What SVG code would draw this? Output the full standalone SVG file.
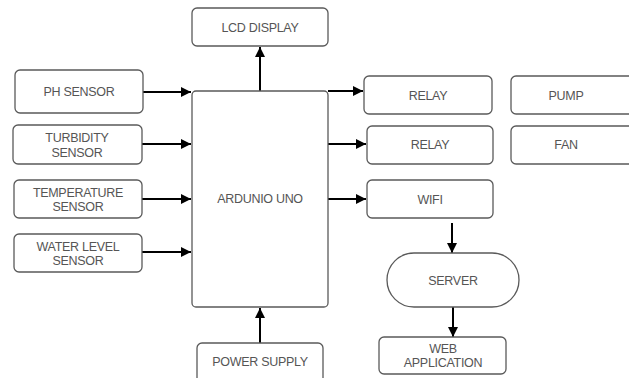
<svg xmlns="http://www.w3.org/2000/svg" width="629" height="378" viewBox="0 0 629 378">
<defs>
<marker id="ah" viewBox="0 0 10 10" refX="10" refY="5" markerWidth="10" markerHeight="10" markerUnits="userSpaceOnUse" orient="auto">
<path d="M0,0 L10,5 L0,10 Z" fill="#000"/>
</marker>
<style>
.b{fill:#fff;stroke:#5a5a5a;stroke-width:1.3}
.t{font-family:"Liberation Sans",Arial,sans-serif;font-size:12.5px;fill:#555;text-anchor:middle;letter-spacing:-0.3px}
.c{fill:none;stroke:#000;stroke-width:2;marker-end:url(#ah)}
.l{fill:none;stroke:#000;stroke-width:2}
</style>
</defs>
<rect width="629" height="378" fill="#fff"/>
<g id="connectors">
<path class="c" d="M260,91 V47"/>
<path class="c" d="M260,343 V308"/>
<path class="c" d="M143,92 H191"/>
<path class="c" d="M142,144 H191"/>
<path class="c" d="M142,199 H191"/>
<path class="c" d="M142,252 H191"/>
<path class="l" d="M328,91 H330"/>
<path class="c" d="M328,91 H363"/>
<path class="c" d="M328,144 H366"/>
<path class="c" d="M328,199 H366"/>
<path class="c" d="M452,223 V253"/>
<path class="c" d="M453,307 V337"/>
</g>
<g id="lcd"><rect class="b" x="192" y="8" width="136" height="38" rx="5"/><text class="t" x="260" y="32">LCD DISPLAY</text></g>
<g id="ph"><rect class="b" x="15" y="70" width="128" height="43" rx="5"/><text class="t" x="79" y="96">PH SENSOR</text></g>
<g id="turbidity"><rect class="b" x="13" y="125" width="129" height="39" rx="5"/><text class="t" x="77" y="142">TURBIDITY</text><text class="t" x="77" y="157">SENSOR</text></g>
<g id="temperature"><rect class="b" x="14" y="180" width="128" height="38" rx="5"/><text class="t" x="78" y="197">TEMPERATURE</text><text class="t" x="78" y="211">SENSOR</text></g>
<g id="waterlevel"><rect class="b" x="14" y="234" width="128" height="38" rx="5"/><text class="t" x="78" y="251">WATER LEVEL</text><text class="t" x="78" y="265">SENSOR</text></g>
<g id="arduino"><rect class="b" x="192" y="91" width="136" height="216" rx="4"/><text class="t" x="260" y="203">ARDUNIO UNO</text></g>
<g id="power"><rect class="b" x="197" y="343" width="126" height="45" rx="5"/><text class="t" x="260" y="366">POWER SUPPLY</text></g>
<g id="relay1"><rect class="b" x="364" y="76" width="128" height="38" rx="5"/><text class="t" x="428" y="100">RELAY</text></g>
<g id="relay2"><rect class="b" x="367" y="126" width="126" height="38" rx="5"/><text class="t" x="430" y="149">RELAY</text></g>
<g id="pump"><rect class="b" x="511" y="76" width="128" height="38" rx="5"/><text class="t" x="566" y="100">PUMP</text></g>
<g id="fan"><rect class="b" x="511" y="126" width="128" height="38" rx="5"/><text class="t" x="566" y="149">FAN</text></g>
<g id="wifi"><rect class="b" x="367" y="180" width="126" height="38" rx="5"/><text class="t" x="430" y="204">WIFI</text></g>
<g id="server"><rect class="b" x="387" y="253" width="132" height="54" rx="27"/><text class="t" x="453" y="285">SERVER</text></g>
<g id="webapp"><rect class="b" x="379" y="337" width="127" height="37" rx="5"/><text class="t" x="443" y="353">WEB</text><text class="t" x="443" y="367">APPLICATION</text></g>
</svg>
